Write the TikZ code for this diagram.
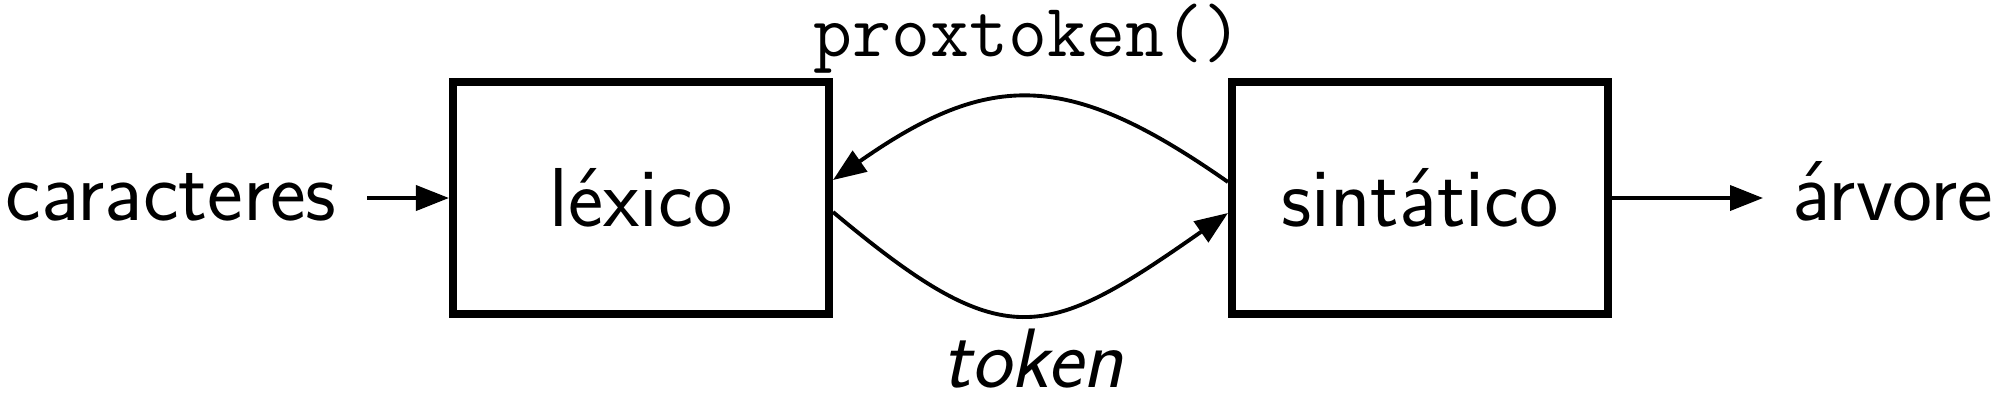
\documentclass[tikz,border=0pt]{standalone}
\usetikzlibrary{arrows.meta}
\begin{document}
\begin{tikzpicture}[
  lbl/.style={font=\fontsize{24.2}{29}\selectfont\sffamily, inner sep=0pt},
  boxnode/.style={draw, line width=2.3pt, minimum width=3.76cm, minimum height=2.32cm, font=\fontsize{23.8}{29}\selectfont\sffamily},
  conn/.style={line width=1.1pt, -{Triangle[length=3.3mm,width=2.5mm]}}
]
\useasboundingbox (0,0) rectangle (19.92,4.00);
\node[lbl, anchor=base west] (car) at (0.05,1.80) {caracteres};
\node[boxnode] (lex) at (6.41,2.02) {léxico};
\node[boxnode] (sin) at (14.20,2.02) {sintático};
\node[lbl, anchor=base west] (arv) at (17.92,1.80) {árvore};
\node[font=\fontsize{21.5}{26}\selectfont\ttfamily, inner sep=0pt, anchor=base] (prox) at (10.28,3.44) {proxtoken()};
\node[font=\fontsize{24}{29}\selectfont\sffamily\itshape, inner sep=0pt, anchor=base] (tok) at (10.33,0.13) {token};
\coordinate (carend) at (car.east |- lex.west);
\draw[conn] ([xshift=0.30cm]carend) -- (lex.west);
\coordinate (arvstart) at (arv.west |- sin.east);
\draw[conn] (sin.east) -- ([xshift=-0.29cm]arvstart);
\draw[conn] ([yshift=0.16cm]sin.west) to[out=145,in=35,looseness=1.25] ([yshift=0.18cm]lex.east);
\draw[conn] ([yshift=-0.14cm]lex.east) to[out=-40,in=-145,looseness=1.45] ([yshift=-0.15cm]sin.west);
\end{tikzpicture}
\end{document}
